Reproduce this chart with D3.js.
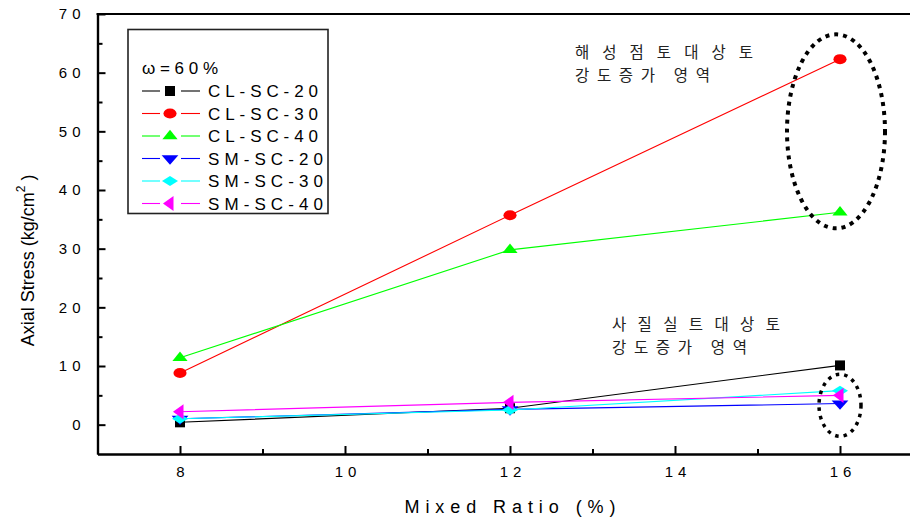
<!DOCTYPE html>
<html>
<head>
<meta charset="utf-8">
<script src="https://cdn.jsdelivr.net/npm/d3@7"></script>
<style>
  body { margin: 0; background: #fff; }
  text { font-family: "Liberation Sans", Arial, sans-serif; fill: #000; }
  .kr { font-family: "Noto Sans CJK KR", sans-serif; fill: #222; font-size: 15.5px; }
</style>
</head>
<body>
<script>
// Data
var ratios = [8, 12, 16];
var clSc20 = [0.4, 2.8, 10.1];
var clSc30 = [8.8, 35.7, 62.3];
var clSc40 = [11.4, 29.8, 36.2];
var smSc20 = [1.0, 2.6, 3.6];
var smSc30 = [1.0, 2.5, 5.8];
var smSc40 = [2.2, 3.8, 5.0];
var seriesNames = ['CL-SC-20', 'CL-SC-30', 'CL-SC-40', 'SM-SC-20', 'SM-SC-30', 'SM-SC-40'];
var xTicks = [8, 10, 12, 14, 16];
var yTicks = [0, 10, 20, 30, 40, 50, 60, 70];

var seriesValues = [clSc20, clSc30, clSc40, smSc20, smSc30, smSc40];
var colors = ['#000000', '#ff0000', '#00ff00', '#0000ff', '#00ffff', '#ff00ff'];

// marker shapes: symbol type + extra transform
var markers = [
  { type: d3.symbolSquare, size: 100, tf: '' },
  { type: d3.symbolCircle, size: 80, tf: ' scale(1.3,1)' },
  { type: d3.symbolTriangle, size: 100, tf: ' scale(1,0.72)' },
  { type: d3.symbolTriangle, size: 100, tf: ' scale(1.1,0.72) rotate(180)' },
  { type: d3.symbolSquare, size: 50, tf: ' scale(1.6,1) rotate(45)' },
  { type: d3.symbolTriangle, size: 100, tf: ' scale(0.8,1) rotate(-90)' }
];

var width = 910, height = 519;

var svg = d3.select('body').
append('svg').
attr('width', width).
attr('height', height);

var x = d3.scaleLinear().domain([7, 17]).range([97.5, 922.5]);
var y = d3.scaleLinear().domain([-5, 70]).range([454, 14]);

// axes
var xAxis = d3.axisBottom(x).tickValues(xTicks).tickSizeInner(-8).tickSizeOuter(0).tickPadding(12).tickFormat(d3.format('d'));
var xMinor = d3.axisBottom(x).tickValues([9, 11, 13, 15]).tickSizeInner(-5).tickSizeOuter(0).tickFormat('');
var yAxis = d3.axisLeft(y).tickValues(yTicks).tickSizeInner(-8).tickSizeOuter(0).tickPadding(12).tickFormat(d3.format('d'));
var yMinor = d3.axisLeft(y).tickValues([5, 15, 25, 35, 45, 55, 65]).tickSizeInner(-5).tickSizeOuter(0).tickFormat('');

function styleAxis(g) {
  g.select('.domain').attr('stroke', '#000').attr('stroke-width', 2.2);
  g.selectAll('.tick line').attr('stroke', '#000').attr('stroke-width', 2);
  g.selectAll('.tick text').
  style('font-family', '"Liberation Sans", Arial, sans-serif').
  style('font-size', '15px').
  style('letter-spacing', '5px').
  attr('fill', '#000');
}

svg.append('g').attr('transform', 'translate(0,' + y(-5) + ')').call(xAxis).call(styleAxis).
selectAll('.tick text').attr('dx', '2.5px');
svg.append('g').attr('transform', 'translate(0,' + y(-5) + ')').call(xMinor).call(styleAxis);
svg.append('g').attr('transform', 'translate(' + x(7) + ',0)').call(yAxis).call(styleAxis).
selectAll('.tick text').attr('x', -12);
svg.append('g').attr('transform', 'translate(' + x(7) + ',0)').call(yMinor).call(styleAxis);

// top frame line
svg.append('line').
attr('x1', x(7) - 1).attr('x2', x(17)).
attr('y1', y(70)).attr('y2', y(70)).
attr('stroke', '#000').attr('stroke-width', 2.2);
svg.append('line').
attr('x1', x(17)).attr('x2', x(17)).
attr('y1', y(70)).attr('y2', y(-5)).
attr('stroke', '#000').attr('stroke-width', 2.2);

// axis titles
svg.append('text').
attr('x', (x(8) + x(16)) / 2).
attr('y', 513).
attr('text-anchor', 'middle').
attr('textLength', 211).
attr('lengthAdjust', 'spacing').
style('font-size', '18px').
text('Mixed Ratio (%)');

var yt = svg.append('text').
attr('transform', 'translate(34,' + y(28) + ') rotate(-90)').
attr('text-anchor', 'middle').
style('font-size', '18px');
yt.append('tspan').text('Axial Stress (kg/cm');
yt.append('tspan').attr('dy', -9).style('font-size', '12px').text('2');
yt.append('tspan').attr('dy', 9).text(' )');

// series
var line = d3.line().
x(function (d, i) {return x(ratios[i]);}).
y(function (d) {return y(d);});

seriesValues.forEach(function (vals, s) {
  svg.append('path').
  attr('d', line(vals)).
  attr('fill', 'none').
  attr('stroke', colors[s]).
  attr('stroke-width', 1.1);
});

seriesValues.forEach(function (vals, s) {
  var m = markers[s];
  svg.selectAll('.mk' + s).
  data(vals).
  enter().append('path').
  attr('class', 'mk' + s).
  attr('d', d3.symbol().type(m.type).size(m.size)).
  attr('transform', function (d, i) {
    return 'translate(' + x(ratios[i]) + ',' + y(d) + ')' + m.tf;
  }).
  attr('fill', colors[s]);
});

// highlight ellipses
svg.append('ellipse').
attr('cx', x(16) - 4).attr('cy', y(50)).
attr('rx', 49).attr('ry', 97).
attr('fill', 'none').
attr('stroke', '#000').
attr('stroke-width', 4).
attr('stroke-dasharray', '4,5');

svg.append('ellipse').
attr('cx', x(16)).attr('cy', y(3.3)).
attr('rx', 21).attr('ry', 31).
attr('fill', 'none').
attr('stroke', '#000').
attr('stroke-width', 3.5).
attr('stroke-dasharray', '3.5,5');

// annotations
function note(x0, y0, line1, w1, line2, w2) {
  svg.append('text').attr('class', 'kr').
  attr('x', x0).attr('y', y0).
  attr('textLength', w1).attr('lengthAdjust', 'spacing').
  text(line1);
  svg.append('text').attr('class', 'kr').
  attr('x', x0).attr('y', y0 + 23).
  attr('textLength', w2).attr('lengthAdjust', 'spacing').
  text(line2);
}
note(575, 58, '해성점토대상토', 178, '강도증가 영역', 135);
note(612, 330, '사질실트대상토', 168, '강도증가 영역', 135);

// legend
var legend = svg.append('g');
legend.append('rect').
attr('x', 128).attr('y', 29.5).
attr('width', 200).attr('height', 184).
attr('fill', '#fff').
attr('stroke', '#222').
attr('stroke-width', 1.6);

legend.append('text').
attr('x', 142).attr('y', 74).
attr('textLength', 76).attr('lengthAdjust', 'spacing').
style('font-size', '17px').
text('ω=60%');

seriesNames.forEach(function (name, s) {
  var cy = 91 + s * 22.5;
  var m = markers[s];
  legend.append('line').
  attr('x1', 142).attr('x2', 160).attr('y1', cy).attr('y2', cy).
  attr('stroke', colors[s]).attr('stroke-width', 1.1);
  legend.append('line').
  attr('x1', 181).attr('x2', 200).attr('y1', cy).attr('y2', cy).
  attr('stroke', colors[s]).attr('stroke-width', 1.1);
  legend.append('path').
  attr('d', d3.symbol().type(m.type).size(m.size)).
  attr('transform', 'translate(170,' + cy + ')' + m.tf).
  attr('fill', colors[s]);
  legend.append('text').
  attr('x', 208).attr('y', cy + 6).
  attr('textLength', s < 3 ? 110 : 115).attr('lengthAdjust', 'spacing').
  style('font-size', '17px').
  text(name);
});
</script>
</body>
</html>
